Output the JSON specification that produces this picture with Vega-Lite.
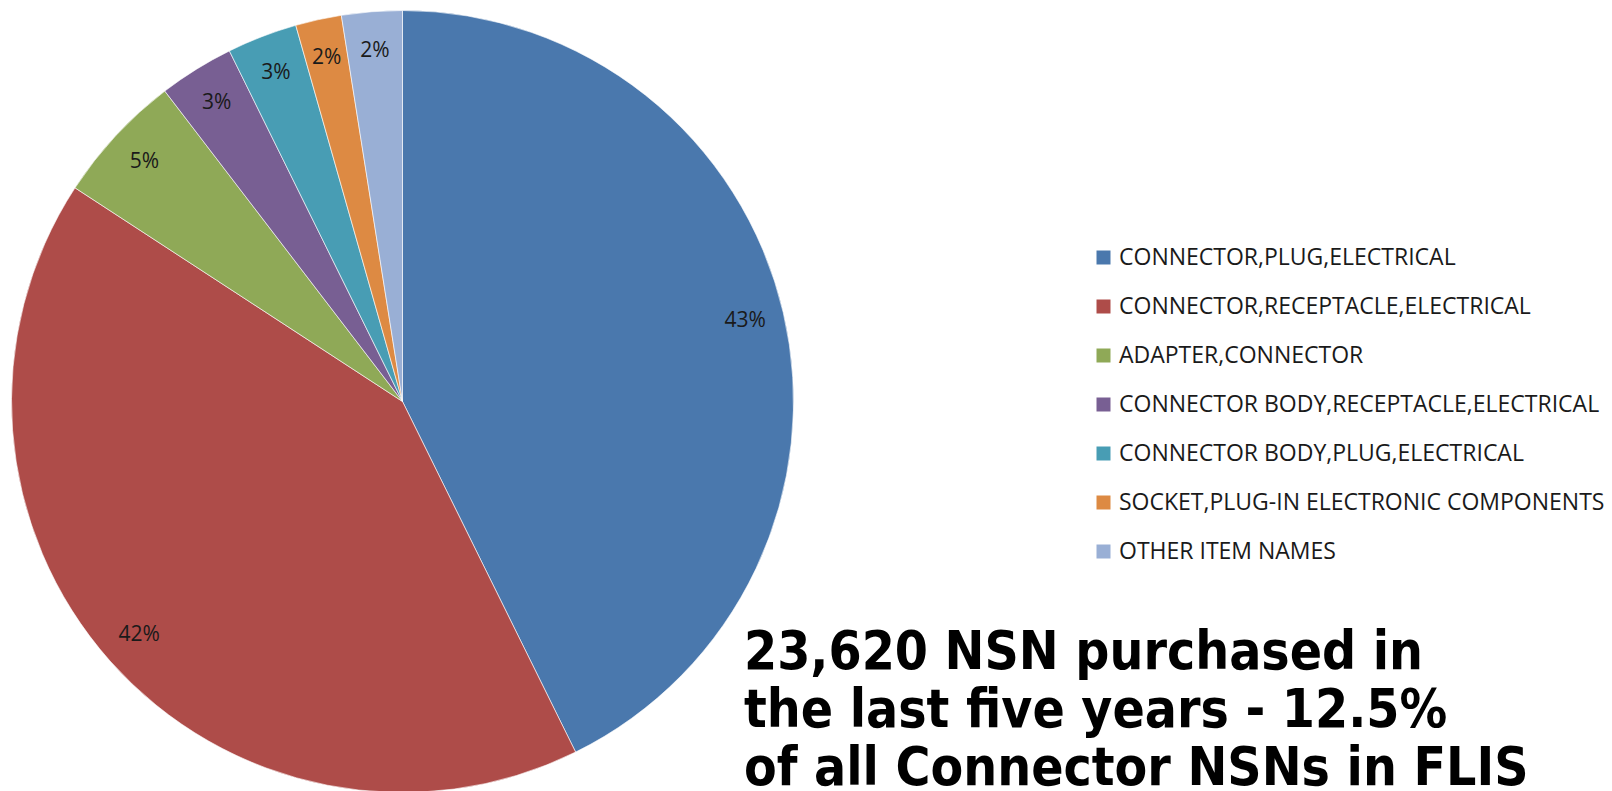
{
  "$schema": "https://vega.github.io/schema/vega-lite/v6.json",
  "width": 805,
  "height": 791,
  "padding": {"top": 6, "left": 0, "right": 0, "bottom": 0},
  "autosize": {"type": "pad"},
  "background": "white",
  "view": {"stroke": null},
  "title": {
    "text": ["23,620 NSN purchased in", "the last five years - 12.5%", "of all Connector NSNs in FLIS"],
    "orient": "bottom",
    "anchor": "start",
    "frame": "group",
    "align": "left",
    "baseline": "top",
    "dx": 744,
    "offset": -170,
    "font": "'DejaVu Sans Condensed', 'DejaVu Sans', sans-serif",
    "fontWeight": "bold",
    "fontSize": 53,
    "lineHeight": 58,
    "color": "#000000"
  },
  "data": {
    "values": [
      {"item": "CONNECTOR,PLUG,ELECTRICAL", "value": 42.7, "order": 1, "label": "43%"},
      {"item": "CONNECTOR,RECEPTACLE,ELECTRICAL", "value": 41.5, "order": 2, "label": "42%"},
      {"item": "ADAPTER,CONNECTOR", "value": 5.4, "order": 3, "label": "5%"},
      {"item": "CONNECTOR BODY,RECEPTACLE,ELECTRICAL", "value": 3.1, "order": 4, "label": "3%"},
      {"item": "CONNECTOR BODY,PLUG,ELECTRICAL", "value": 2.9, "order": 5, "label": "3%"},
      {"item": "SOCKET,PLUG-IN ELECTRONIC COMPONENTS", "value": 1.9, "order": 6, "label": "2%"},
      {"item": "OTHER ITEM NAMES", "value": 2.5, "order": 7, "label": "2%"}
    ]
  },
  "encoding": {
    "theta": {"field": "value", "type": "quantitative", "stack": true},
    "order": {"field": "order", "type": "quantitative"}
  },
  "layer": [
    {
      "mark": {"type": "arc", "outerRadius": 391, "stroke": "#ffffff", "strokeWidth": 0.6},
      "encoding": {
        "color": {
          "field": "item",
          "type": "nominal",
          "sort": null,
          "scale": {
            "domain": ["CONNECTOR,PLUG,ELECTRICAL", "CONNECTOR,RECEPTACLE,ELECTRICAL", "ADAPTER,CONNECTOR", "CONNECTOR BODY,RECEPTACLE,ELECTRICAL", "CONNECTOR BODY,PLUG,ELECTRICAL", "SOCKET,PLUG-IN ELECTRONIC COMPONENTS", "OTHER ITEM NAMES"],
            "range": ["#4A78AD", "#AE4C49", "#8FA957", "#785F93", "#489DB4", "#DD8A43", "#99AFD5"]
          },
          "legend": {
            "orient": "none",
            "legendX": 1092,
            "legendY": 240,
            "title": null,
            "padding": 0,
            "symbolType": "square",
            "symbolSize": 196,
            "symbolStrokeWidth": 0,
            "symbolOpacity": 1,
            "labelFont": "'Open Sans', sans-serif",
            "labelFontSize": 23,
            "labelColor": "#1a1a1a",
            "labelOffset": 4,
            "labelLimit": 700,
            "rowPadding": 25
          }
        }
      }
    },
    {
      "mark": {"type": "text", "radius": 352, "font": "'Open Sans', sans-serif", "fontSize": 21, "color": "#1a1a1a"},
      "encoding": {"text": {"field": "label", "type": "nominal"}}
    }
  ]
}
